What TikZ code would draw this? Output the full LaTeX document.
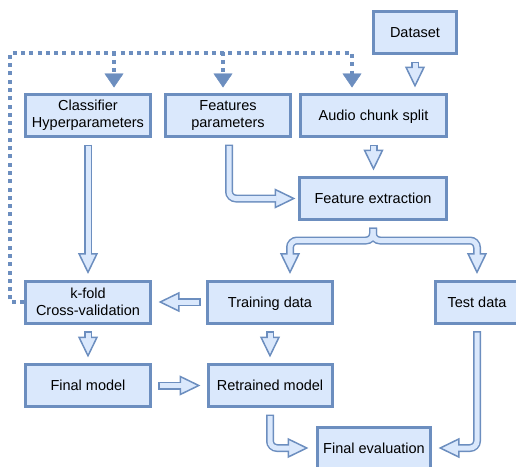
\documentclass[tikz,border=0pt]{standalone}
\usepackage{fontspec}
\setmainfont{Liberation Sans}
\usetikzlibrary{arrows.meta,calc}
\definecolor{strokec}{HTML}{6C8EBF}
\definecolor{fillc}{HTML}{DAE8FC}
\newcommand\allarrows[1]{%
  \draw[#1] ($(dataset.south)+(0,6.5)$) -- ($(dataset.south |- audio.north)+(0,-5.5)$);
  \draw[#1] ($(clf.south)+(0,6.5)$) -- ($(kfold.north)+(0,-5.5)$);
  \draw[#1] ($(fpar.south)+(1,6.5)$) |- ($(fext.west)+(-2.5,0)$);
  \draw[#1] ($(audio.south)+(0,6.5)$) -- ($(audio.south |- fext.north)+(0,-5.5)$);
  \draw[#1] ($(fext.south)+(0,6.5)$) -- ++(0,13) -| ($(train.north)+(20,-5.5)$);
  \draw[#1] ($(fext.south)+(0,6.5)$) -- ++(0,13) -| ($(test.north)+(0,-5.5)$);
  \draw[#1] ($(train.west)+(-5.5,0)$) -- ($(kfold.east)+(6.5,0)$);
  \draw[#1] ($(kfold.south)+(0,6.5)$) -- ($(final.north)+(0,-5.5)$);
  \draw[#1] ($(train.south)+(0,6.5)$) -- ($(retr.north)+(0,-5.5)$);
  \draw[#1] ($(final.east)+(6,0)$) -- ($(retr.west)+(-6,0)$);
  \draw[#1] ($(retr.south)+(0,6.5)$) |- ($(eval.west)+(-7.5,0)$);
  \draw[#1] ($(test.south)+(0,6.5)$) |- ($(eval.east)+(6.5,0)$);
}
\begin{document}
\begin{tikzpicture}[x=1pt,y=-1pt,
  box/.style={draw=strokec, fill=fillc, line width=3pt, minimum height=42pt,
    align=center, inner sep=0pt, font=\fontsize{14.5}{16.7}\selectfont},
  one/.style={box, text height=10.5pt, text depth=0pt},
  bo/.style={draw=strokec, line width=8pt, rounded corners=7pt,
    -{Triangle[length=21pt, width=20pt, line width=1.5pt, fill=fillc]}},
  bi/.style={draw=fillc, line width=5pt, rounded corners=7pt,
    shorten <=1.5pt, shorten >=19pt},
  dotl/.style={draw=strokec, line width=4pt, dash pattern=on 4pt off 4.3pt},
  dota/.style={dotl, -{Triangle[length=14pt, width=19pt, line width=0.4pt]}},
]
\useasboundingbox (0,0) rectangle (516,466);
\node[one, minimum width=83pt]  (dataset) at (415,32.5)  {Dataset};
\node[box, minimum width=125pt] (clf)     at (88,115.5)  {Classifier\\Hyperparameters};
\node[box, minimum width=125pt] (fpar)    at (228,115.5) {Features\\parameters};
\node[one, minimum width=146pt] (audio)   at (373.5,115.5) {Audio chunk split};
\node[one, minimum width=147pt] (fext)    at (373,198.5) {Feature extraction};
\node[box, minimum width=125pt] (kfold)   at (88,302)    {k-fold\\Cross-validation};
\node[one, minimum width=125pt] (train)   at (270,302)   {Training data};
\node[one, minimum width=83pt]  (test)    at (477,302)   {Test data};
\node[one, minimum width=125pt] (final)   at (88,385.5)  {Final model};
\node[one, minimum width=124pt] (retr)    at (270,385.5) {Retrained model};
\node[one, minimum width=113pt] (eval)    at (374,448)   {Final evaluation};
\coordinate (tl) at (10,53);
\allarrows{bo}
\allarrows{bi}
\draw[dota] (kfold.west) -| (tl) -| ($(audio.north)+(-21.5,-5.5)$);
\draw[dota] ($(clf.north)+(26,-41.5)$) -- ($(clf.north)+(26,-5.5)$);
\draw[dota] ($(fpar.north)+(-5,-41.5)$) -- ($(fpar.north)+(-5,-5.5)$);
\end{tikzpicture}
\end{document}
